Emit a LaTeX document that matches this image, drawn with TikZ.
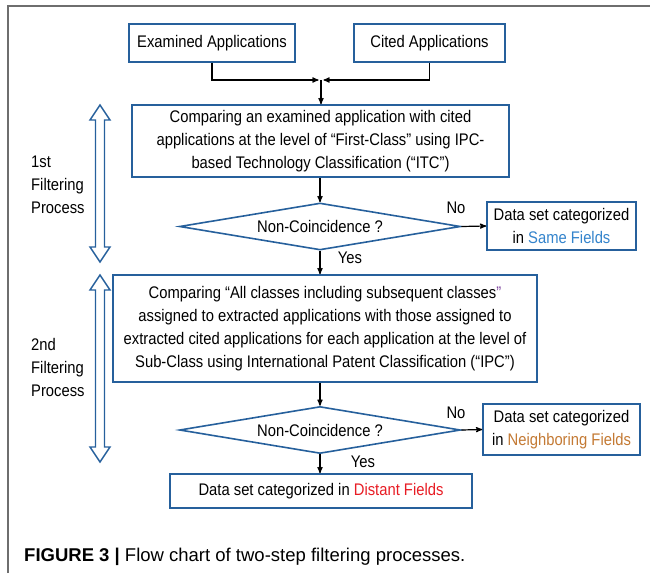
\documentclass[tikz,border=0pt]{standalone}
\usepackage{fontspec}
\setmainfont{Liberation Sans}[FakeStretch=0.88]
\newfontfamily\capfont{Liberation Sans}
\usepackage{tikz}
\usetikzlibrary{arrows}
\usetikzlibrary{positioning}
\usetikzlibrary{shapes.geometric}

\definecolor{boxblue}{RGB}{38,96,156}
\definecolor{samecol}{RGB}{52,132,204}
\definecolor{neighcol}{RGB}{196,122,52}
\definecolor{distcol}{RGB}{232,28,36}
\definecolor{quotecol}{RGB}{128,72,160}
\definecolor{framegray}{RGB}{110,110,110}

\begin{document}
\begin{tikzpicture}[x=1pt,y=-1pt,>=stealth',
  every node/.style={font=\fontsize{16.8}{23}\selectfont,inner sep=0pt},
  box/.style={draw=boxblue,line width=1.6pt,fill=white,align=center},
  test/.style={diamond,draw=boxblue,line width=1.6pt,aspect=6,minimum width=281pt,minimum height=47pt},
  arr/.style={->,line width=1.2pt},
  band/.style={draw=boxblue,line width=1.4pt,fill=white,line join=miter}]
  \useasboundingbox (0,0) rectangle (650,573);
  \draw[framegray,line width=1.5pt] (8,573)--(8,6)--(650,6);

  \node[box,minimum width=166pt,minimum height=38pt] (exam) at (212,43) {Examined Applications};
  \node[box,minimum width=151pt,minimum height=38pt] (cited) at (429.5,43) {Cited Applications};
  \coordinate (join) at (321,80);
  \coordinate (joinl) at (318.5,80);
  \coordinate (joinr) at (323.5,80);

  \node[box,minimum width=377pt,minimum height=72pt] (first) at (320.5,141)
    {Comparing an examined application with cited\\applications at the level of “First-Class” using IPC-\\based Technology Classification (“ITC”)};
  \node[test] (test1) at (320,226.5) {Non-Coincidence ?};
  \node[box,minimum width=149pt,minimum height=48pt] (same) at (561.5,226)
    {Data set categorized\\in {\color{samecol}Same Fields}};

  \node[box,minimum width=424pt,minimum height=107pt] (second) at (325,328.5)
    {Comparing “All classes including subsequent classes{\color{quotecol}”}\\assigned to extracted applications with those assigned to\\extracted cited applications for each application at the level of\\Sub-Class using International Patent Classification (“IPC”)};
  \node[test] (test2) at (320,430) {Non-Coincidence ?};
  \node[box,minimum width=157pt,minimum height=51pt] (neigh) at (561.5,429.5)
    {Data set categorized\\in {\color{neighcol}Neighboring Fields}};
  \node[box,minimum width=302pt,minimum height=34pt] (dist) at (321,491)
    {Data set categorized in {\color{distcol}Distant Fields}};

  \node (no1) at (456,208) {No};
  \node (yes1) at (350,258) {Yes};
  \node (no2) at (456,413) {No};
  \node (yes2) at (363,462) {Yes};

  \node[anchor=west,align=left] (step1) at (31,185) {1st\\Filtering\\Process};
  \node[anchor=west,align=left] (step2) at (31,367) {2nd\\Filtering\\Process};

  % hollow double arrows
  \draw[band] (95.5,120)--(90,120)--(100,105)--(110,120)--(104.5,120)--(104.5,247)--(110,247)--(100,262)--(90,247)--(95.5,247)--cycle;
  \draw[band] (95.5,290)--(90,290)--(100,275)--(110,290)--(104.5,290)--(104.5,447)--(110,447)--(100,462)--(90,447)--(95.5,447)--cycle;

  \draw[arr](exam.south)|-(joinl);
  \draw[arr](cited.south)|-(joinr);
  \draw[arr](join)--(join|-first.north);
  \draw[arr](first.south-|test1.north)--(test1.north);
  \draw[arr](test1.east)--(same.west);
  \draw[arr](test1.south)--(test1.south|-second.north);
  \draw[arr](second.south-|test2.north)--(test2.north);
  \draw[arr](test2.east)--(neigh.west);
  \draw[arr](test2.south)--(test2.south|-dist.north);

  \node[anchor=west,font=\capfont\fontsize{18.5}{22}\selectfont] (caption) at (24,557)
    {\textbf{FIGURE 3 |} Flow chart of two-step filtering processes.};
\end{tikzpicture}
\end{document}
